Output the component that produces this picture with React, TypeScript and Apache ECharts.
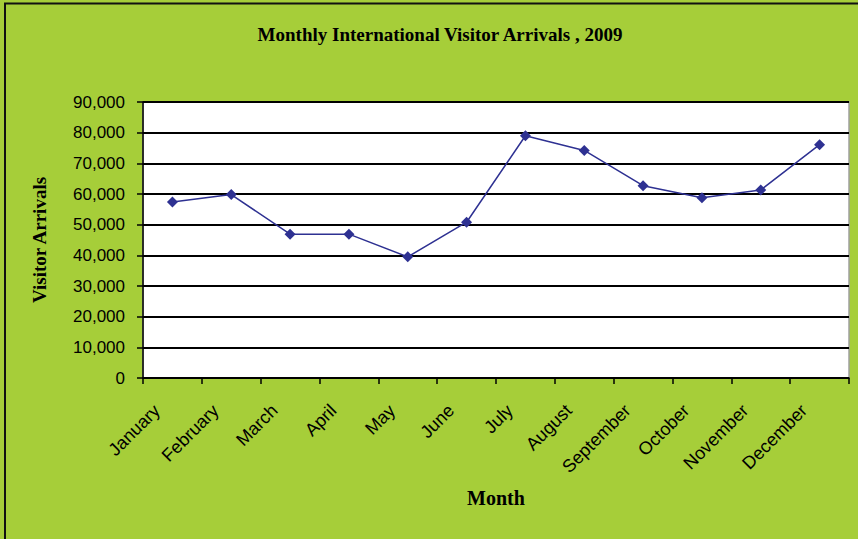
import React, { useEffect, useRef } from "react";
import * as echarts from "echarts";

const months = [
  "January", "February", "March", "April", "May", "June",
  "July", "August", "September", "October", "November", "December",
];
const arrivals = [57400, 59800, 46900, 46900, 39500, 50800, 79000, 74200, 62700, 58800, 61300, 76100];
const yTicks = { min: 0, max: 90000, interval: 10000 };

export default function App() {
  const ref = useRef<HTMLDivElement>(null);
  useEffect(() => {
    if (!ref.current) return;
    const chart = echarts.init(ref.current, null, { renderer: "svg" });
    chart.setOption({
      animation: false,
      backgroundColor: "#A6CE39",
      graphic: [
        {
          type: "rect",
          shape: { x: 5, y: 3.5, width: 900, height: 600 },
          style: { fill: "none", stroke: "#111", lineWidth: 2 },
          silent: true,
        },
      ],
      title: {
        text: "Monthly International Visitor Arrivals , 2009",
        left: 435,
        textAlign: "center",
        top: 20,
        textStyle: {
          fontFamily: "Liberation Serif",
          fontWeight: "bold",
          fontSize: 19,
          color: "#000",
        },
      },
      grid: {
        left: 143,
        right: 9,
        top: 102,
        bottom: 161,
        show: true,
        backgroundColor: "#fff",
        borderColor: "#a0a0a0",
        borderWidth: 1.5,
        containLabel: false,
      },
      xAxis: {
        type: "category",
        data: months,
        boundaryGap: true,
        name: "Month",
        nameLocation: "middle",
        nameGap: 110,
        nameTextStyle: {
          fontFamily: "Liberation Serif",
          fontWeight: "bold",
          fontSize: 20,
          color: "#000",
        },
        axisLine: { show: true, lineStyle: { color: "#000", width: 1.5 } },
        axisTick: { show: true, alignWithLabel: false, length: 6, lineStyle: { color: "#000", width: 1.5 } },
        axisLabel: {
          rotate: 45,
          margin: 14,
          padding: [0, 22, 0, 0],
          interval: 0,
          fontFamily: "Liberation Sans",
          fontSize: 18,
          color: "#000",
        },
        splitLine: { show: false },
      },
      yAxis: {
        type: "value",
        min: yTicks.min,
        max: yTicks.max,
        interval: yTicks.interval,
        name: "Visitor Arrivals",
        nameLocation: "middle",
        nameGap: 94,
        nameTextStyle: {
          fontFamily: "Liberation Serif",
          fontWeight: "bold",
          fontSize: 19,
          color: "#000",
        },
        axisLine: { show: true, lineStyle: { color: "#000", width: 1.5 } },
        axisTick: { show: true, inside: false, length: 6, lineStyle: { color: "#000", width: 1.5 } },
        axisLabel: {
          margin: 18,
          fontFamily: "Liberation Sans",
          fontSize: 17,
          color: "#000",
          formatter: (v: number) => v.toLocaleString("en-US"),
        },
        splitLine: { show: true, lineStyle: { color: "#000", width: 1.8 } },
      },
      series: [
        {
          type: "line",
          data: arrivals,
          symbol: "diamond",
          symbolSize: 11,
          itemStyle: { color: "#2E3192" },
          lineStyle: { color: "#2E3192", width: 1.5 },
        },
      ],
    });
    return () => chart.dispose();
  }, []);
  return (
    <div
      ref={ref}
      style={{ position: "fixed", left: 0, top: 0, width: 858, height: 539 }}
    />
  );
}
